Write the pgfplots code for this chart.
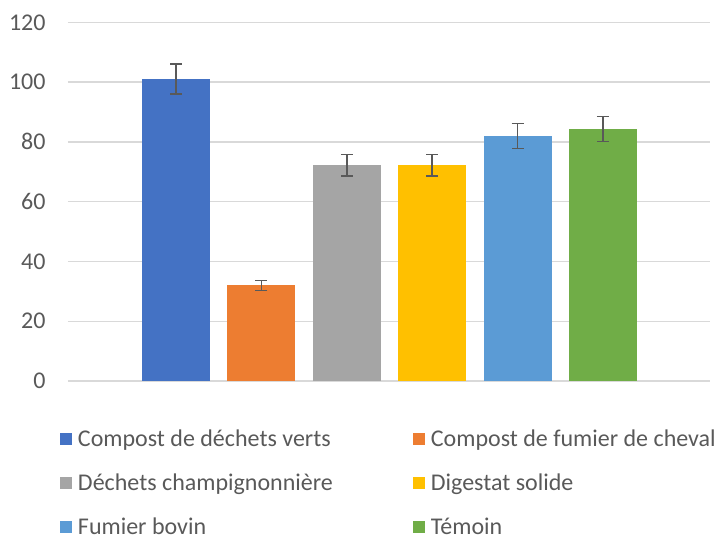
\documentclass[border=0pt]{standalone}
\usepackage{fontspec}
\setmainfont{Carlito}
\usepackage{pgfplots}
\pgfplotsset{compat=1.18}
\definecolor{c1}{HTML}{4472C4}
\definecolor{c2}{HTML}{ED7D31}
\definecolor{c3}{HTML}{A5A5A5}
\definecolor{c4}{HTML}{FFC000}
\definecolor{c5}{HTML}{5B9BD5}
\definecolor{c6}{HTML}{70AD47}
\definecolor{txt}{HTML}{595959}
\definecolor{grd}{HTML}{D9D9D9}
\pgfplotsset{eb/.style={draw=none, bar shift=0pt,
  error bars/.cd, y dir=both, y explicit,
  error bar style={txt, line width=1.5pt},
  error mark options={rotate=90, mark size=6pt, line width=1.5pt, txt}}}
\begin{document}
\fontsize{24}{28}\selectfont
\begin{tikzpicture}
\begin{axis}[
  scale only axis, width=642pt, height=358.7pt,
  xmin=-1.265, xmax=6.253, ymin=0, ymax=120,
  ytick={0,20,...,120}, xtick=\empty,
  ymajorgrids, grid style={grd, line width=1.4pt},
  axis line style={draw=none},
  major tick length=0pt,
  tick label style={font=\fontsize{24}{28}\selectfont, text=txt},
  yticklabel style={anchor=east, inner sep=0pt, xshift=-22.3pt},
  /pgf/number format/assume math mode=true,
  ybar, bar width=0.797,
  legend columns=2, legend cell align=left,
  legend image code/.code={\fill[#1] (0pt,-6pt) rectangle (12pt,6pt);},
  legend style={at={(0,0)}, anchor=north west, xshift=-8pt, yshift=-45.8pt,
    draw=none, fill=none, inner sep=0pt, outer sep=0pt,
    row sep=20.5pt, column sep=6pt,
    font=\fontsize{24}{28}\selectfont, text=txt,
    nodes={inner sep=0pt, text height=19.5pt, text depth=4pt},
    /tikz/every even column/.append style={column sep=80pt}},
]
\addplot[fill=c1, eb] coordinates {(0,101) +- (0,5.0)};
\addplot[fill=c2, eb] coordinates {(1,32) +- (0,1.7)};
\addplot[fill=c3, eb] coordinates {(2,72.2) +- (0,3.6)};
\addplot[fill=c4, eb] coordinates {(3,72.2) +- (0,3.6)};
\addplot[fill=c5, eb] coordinates {(4,81.9) +- (0,4.2)};
\addplot[fill=c6, eb] coordinates {(5,84.3) +- (0,4.2)};
\legend{Compost de déchets verts, Compost de fumier de cheval, Déchets champignonnière, Digestat solide, Fumier bovin, Témoin}
\end{axis}
\pgfresetboundingbox
\useasboundingbox (-68pt,-154pt) rectangle (650pt,381pt);
\end{tikzpicture}
\end{document}
